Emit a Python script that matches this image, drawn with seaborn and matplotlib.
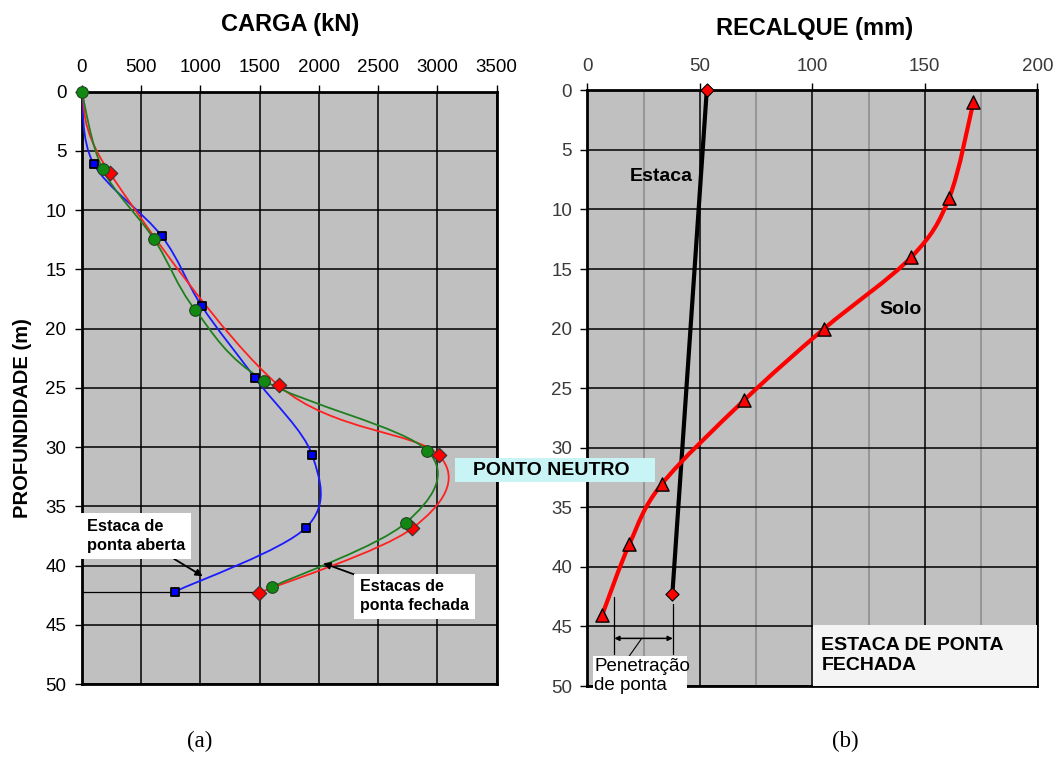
import numpy as np
import pandas as pd
import matplotlib
matplotlib.use("Agg")
import matplotlib.pyplot as plt
from matplotlib.path import Path
from matplotlib.patches import PathPatch, Rectangle
import seaborn as sns

# ---------------- data ----------------
# (a) axial load along the pile
depth_open = [0.0, 6.1, 12.2, 18.1, 24.2, 30.7, 36.8, 42.2]
load_open = [0, 101, 675, 1012, 1464, 1944, 1891, 787]

depth_closed_g = [0.0, 6.55, 12.45, 18.4, 24.4, 30.3, 36.4, 41.8]
load_closed_g = [0, 177, 610, 955, 1540, 2914, 2732, 1605]

depth_closed_r = [0.0, 6.9, 24.8, 30.7, 36.85, 42.3]
load_closed_r = [0, 239, 1661, 3013, 2788, 1495]

tip_depth = 42.2

# (b) settlement profiles
pile_depth = [0.0, 42.3]
pile_settle = [53.1, 37.8]

soil_depth = [1.0, 9.0, 14.0, 20.0, 26.0, 33.05, 38.1, 44.0]
soil_settle = [171.6, 160.9, 144.0, 105.3, 69.8, 33.1, 18.7, 6.7]

load_ticks = [0, 500, 1000, 1500, 2000, 2500, 3000, 3500]
settle_ticks = [0, 50, 100, 150, 200]
depth_ticks = [0, 5, 10, 15, 20, 25, 30, 35, 40, 45, 50]

# ---------------- style ----------------
sns.set_theme(style="white")
plt.rcParams["font.family"] = ["Liberation Sans", "DejaVu Sans"]
plt.rcParams["text.color"] = "black"
plt.rcParams["xtick.color"] = "black"
plt.rcParams["ytick.color"] = "black"

GRAY_BG = "#c0c0c0"


def smooth_path(xs, ys):
    """Cubic Bezier path through the points (Catmull-Rom style tangents)."""
    pts = np.column_stack([xs, ys]).astype(float)
    n = len(pts)
    verts = [pts[0]]
    codes = [Path.MOVETO]
    for i in range(n - 1):
        p_prev = pts[i - 1] if i > 0 else pts[i]
        p0 = pts[i]
        p1 = pts[i + 1]
        p_next = pts[i + 2] if i + 2 < n else pts[i + 1]
        c1 = p0 + (p1 - p_prev) / 6.0
        c2 = p1 - (p_next - p0) / 6.0
        verts += [c1, c2, p1]
        codes += [Path.CURVE4] * 3
    return Path(verts, codes)


def add_curve(ax, xs, ys, color, lw, z=3):
    patch = PathPatch(smooth_path(xs, ys), facecolor="none", edgecolor=color,
                      lw=lw, zorder=z, capstyle="round", joinstyle="round")
    ax.add_patch(patch)


def frame(ax):
    ax.set_facecolor(GRAY_BG)
    ax.xaxis.tick_top()
    ax.xaxis.set_label_position("top")
    for s in ax.spines.values():
        s.set_visible(True)
        s.set_color("black")
        s.set_linewidth(2.0)
    ax.tick_params(axis="both", which="major", direction="out", length=5,
                   width=1.0, color="black", labelcolor="black",
                   labelsize=13.5, pad=6)
    ax.tick_params(axis="x", which="major", top=True, bottom=False)
    ax.tick_params(axis="y", which="major", left=True)


fig = plt.figure(figsize=(10.63, 7.71), dpi=100)
fig.patch.set_facecolor("white")

# ================= (a) load =================
ax1 = fig.add_axes([0.0769, 0.1128, 0.3904, 0.7683])
frame(ax1)
ax1.set_xlim(0, 3500)
ax1.set_ylim(50, 0)
ax1.set_xticks(load_ticks)
ax1.set_yticks(depth_ticks)
ax1.grid(True, color="black", lw=1.1, zorder=0)
ax1.set_axisbelow(True)

# pile tip level
sns.lineplot(x=[0, load_closed_r[-1]], y=[tip_depth, tip_depth], ax=ax1,
             color="black", lw=0.9, sort=False, estimator=None, zorder=2)

add_curve(ax1, load_open, depth_open, "#1a1aff", 1.3)
add_curve(ax1, load_closed_r, depth_closed_r, "#ff2020", 1.3)
add_curve(ax1, load_closed_g, depth_closed_g, "#1f7f1f", 1.3)

df_open = pd.DataFrame({"x": load_open[1:], "y": depth_open[1:]})
df_r = pd.DataFrame({"x": load_closed_r[1:], "y": depth_closed_r[1:]})
df_g = pd.DataFrame({"x": load_closed_g, "y": depth_closed_g})
sns.scatterplot(data=df_open, x="x", y="y", ax=ax1, marker="s", s=28,
                color="#0000ff", edgecolor="black", linewidth=1.3, zorder=5)
sns.scatterplot(data=df_r, x="x", y="y", ax=ax1, marker="D", s=55,
                color="#ff0000", edgecolor="#333333", linewidth=0.8, zorder=5)
sns.scatterplot(data=df_g, x="x", y="y", ax=ax1, marker="o", s=70,
                color="#118811", edgecolor="#224422", linewidth=0.8, zorder=6,
                clip_on=False)
ax1.set_xlabel("")
ax1.set_ylabel("")

box_kw = dict(boxstyle="square,pad=0.35", facecolor="white", edgecolor="none")
ax1.annotate("Estaca de\nponta aberta", xy=(1020, 40.9), xytext=(45, 37.5),
             fontsize=11.8, fontweight="bold", ha="left", va="center",
             bbox=box_kw, linespacing=1.35, zorder=8,
             arrowprops=dict(arrowstyle="-|>", color="black", lw=1.3,
                             shrinkA=0, shrinkB=0, mutation_scale=10),
             annotation_clip=False)
ax1.annotate("Estacas de\nponta fechada", xy=(2037, 39.8), xytext=(2347, 42.6),
             fontsize=11.5, fontweight="bold", ha="left", va="center",
             bbox=box_kw, linespacing=1.35, zorder=8,
             arrowprops=dict(arrowstyle="-|>", color="black", lw=1.3,
                             shrinkA=0, shrinkB=0, mutation_scale=10),
             annotation_clip=False)

# ================= (b) settlement =================
ax2 = fig.add_axes([0.5525, 0.1102, 0.4233, 0.7727])
frame(ax2)
ax2.set_xlim(0, 200)
ax2.set_ylim(50, 0)
ax2.set_xticks(settle_ticks)
ax2.set_xticks([25, 75, 125, 175], minor=True)
ax2.set_yticks(depth_ticks)
ax2.tick_params(axis="both", which="major", labelcolor="#3a3a3a")
ax2.tick_params(axis="x", which="minor", length=0)
ax2.grid(True, which="major", color="black", lw=1.1, zorder=0)
ax2.grid(True, which="minor", axis="x", color="#8a8a8a", lw=1.1, zorder=0)
ax2.set_axisbelow(True)

sns.lineplot(x=pile_settle, y=pile_depth, ax=ax2, color="black", lw=3,
             sort=False, estimator=None, zorder=3)
sns.scatterplot(x=pile_settle, y=pile_depth, ax=ax2, marker="D", s=45,
                color="#ff0000", edgecolor="black", linewidth=0.8, zorder=5,
                clip_on=False)

add_curve(ax2, soil_settle, soil_depth, "#ff0000", 3.0)
sns.scatterplot(x=soil_settle, y=soil_depth, ax=ax2, marker="^", s=90,
                color="#ff0000", edgecolor="black", linewidth=1.0, zorder=5)
ax2.set_xlabel("")
ax2.set_ylabel("")

ax2.text(33, 7.2, "Estaca", fontsize=14, fontweight="bold",
         ha="center", va="center", zorder=6)
ax2.text(139, 18.4, "Solo", fontsize=14, fontweight="bold",
         ha="center", va="center", zorder=6)

# tip penetration dimension
ax2.plot([12, 12], [42.5, 47.3], color="black", lw=0.9, zorder=6)
ax2.plot([38, 38], [43.1, 47.3], color="black", lw=0.9, zorder=6)
ax2.annotate("", xy=(12, 46.0), xytext=(38, 46.0),
             arrowprops=dict(arrowstyle="<|-|>", color="black", lw=1.1,
                             shrinkA=0, shrinkB=0, mutation_scale=7),
             zorder=6)
ax2.plot([24.2, 18.2], [46.0, 47.6], color="black", lw=0.8, zorder=6)
ax2.add_patch(Rectangle((2.7, 47.5), 41.5, 3.5, facecolor="white",
                        edgecolor="none", zorder=6, clip_on=False))
ax2.text(3.0, 49.15, "Penetração\nde ponta", fontsize=13.5, ha="left",
         va="center", linespacing=1.2, zorder=7, clip_on=False)

ax2.add_patch(Rectangle((100.5, 44.9), 99.5, 5.1, facecolor="#f4f4f4",
                        edgecolor="none", zorder=6))
ax2.text(104.0, 47.45, "ESTACA DE PONTA\nFECHADA", fontsize=14,
         fontweight="bold", ha="left", va="center", linespacing=1.2,
         zorder=7)

# ================= figure texts =================
fig.text(0.2728, 0.968, "CARGA (kN)", fontsize=17, fontweight="bold",
         ha="center", va="center")
fig.text(0.7667, 0.963, "RECALQUE (mm)", fontsize=17, fontweight="bold",
         ha="center", va="center")
fig.text(0.021, 0.458, "PROFUNDIDADE (m)", fontsize=14.5, fontweight="bold",
         rotation=90, ha="center", va="center")

fig.patches.append(Rectangle((455 / 1063, 1 - 482 / 771), 200 / 1063,
                             24 / 771, transform=fig.transFigure,
                             facecolor="#c8f4f6", edgecolor="none",
                             zorder=9))
fig.text(551 / 1063, 1 - 470 / 771, "PONTO NEUTRO", fontsize=14,
         fontweight="bold", ha="center", va="center", zorder=10)

fig.text(0.188, 0.024, "(a)", fontsize=16.5, ha="center", va="bottom",
         family=["Liberation Serif", "DejaVu Serif"])
fig.text(0.795, 0.024, "(b)", fontsize=16.5, ha="center", va="bottom",
         family=["Liberation Serif", "DejaVu Serif"])

fig.savefig("out.png", dpi=100, facecolor="white")
